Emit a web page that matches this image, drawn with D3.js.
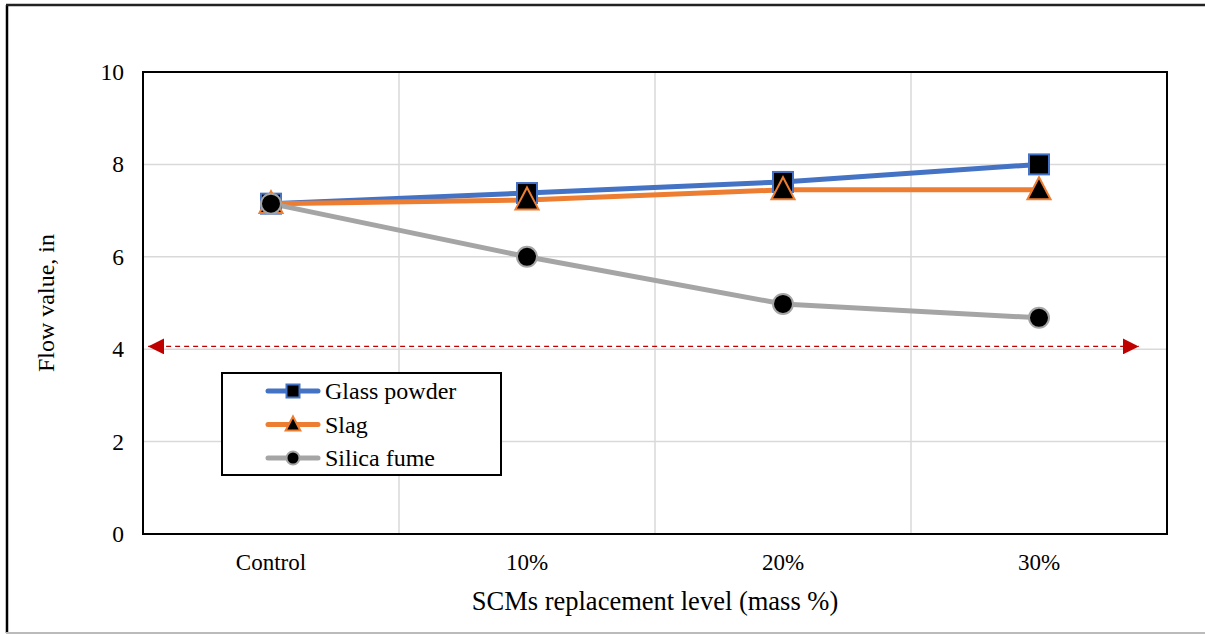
<!DOCTYPE html>
<html>
<head>
<meta charset="utf-8">
<script src="https://cdn.jsdelivr.net/npm/d3@7"></script>
<style>
  html, body { margin: 0; padding: 0; background: #fff; }
  svg { display: block; font-family: "Liberation Serif", "Times New Roman", serif; }
</style>
</head>
<body>
<svg id="chart" width="1205" height="634"></svg>
<script>
// Flow values (in) by SCM replacement level
const categories = ["Control", "10%", "20%", "30%"];
const glassPowder = [7.15, 7.38, 7.62, 8.0];
const slag = [7.15, 7.23, 7.45, 7.45];
const silicaFume = [7.15, 6.0, 4.98, 4.68];
const yTicks = [0, 2, 4, 6, 8, 10];
// Minimum flow reference (double-headed arrow), spanning fractional category positions
const limitValue = 4.06;
const limitSpan = [-0.48, 3.39];

const series = [
  { name: "Glass powder", values: glassPowder, color: "#4472C4", marker: "square" },
  { name: "Slag", values: slag, color: "#ED7D31", marker: "triangle" },
  { name: "Silica fume", values: silicaFume, color: "#A5A5A5", marker: "circle" }
];

const FONT = "Liberation Serif, Times New Roman, serif";
const svg = d3.select("#chart");
const margin = { left: 143, right: 1167, top: 72, bottom: 534 };

// Outer frame
svg.append("line").attr("x1", 7).attr("x2", 7).attr("y1", 5).attr("y2", 633)
  .attr("stroke", "#000").attr("stroke-width", 2.5);
svg.append("line").attr("x1", 6).attr("x2", 1205).attr("y1", 5).attr("y2", 5)
  .attr("stroke", "#222").attr("stroke-width", 2.5);
svg.append("line").attr("x1", 6).attr("x2", 1205).attr("y1", 633).attr("y2", 633)
  .attr("stroke", "#bbb").attr("stroke-width", 2);

const x = d3.scaleBand().domain(categories).range([margin.left, margin.right]);
const xPos = i => x(categories[i]) + x.bandwidth() / 2;
const xFrac = d3.scaleLinear().domain([-0.5, categories.length - 0.5]).range([margin.left, margin.right]);
const y = d3.scaleLinear().domain([0, 10]).range([margin.bottom, margin.top]);

// Gridlines
const grid = svg.append("g");
grid.selectAll("line.h").data(yTicks.filter(t => t > 0 && t < 10)).join("line")
  .attr("x1", margin.left).attr("x2", margin.right)
  .attr("y1", d => y(d)).attr("y2", d => y(d))
  .attr("stroke", "#d9d9d9").attr("stroke-width", 1.5);
grid.selectAll("line.v").data(categories.slice(1)).join("line")
  .attr("x1", d => x(d)).attr("x2", d => x(d))
  .attr("y1", margin.top).attr("y2", margin.bottom)
  .attr("stroke", "#d9d9d9").attr("stroke-width", 1.5);

// Y axis
const yAxis = d3.axisLeft(y).tickValues(yTicks).tickSize(0).tickPadding(19);
const gy = svg.append("g").attr("transform", `translate(${margin.left},0)`).call(yAxis)
  .attr("font-size", 23.5).attr("font-family", FONT);
gy.select(".domain").remove();
gy.selectAll("text").attr("fill", "#000");

// X axis
const xAxis = d3.axisBottom(x).tickSize(0).tickPadding(20);
const gx = svg.append("g").attr("transform", `translate(0,${margin.bottom})`).call(xAxis)
  .attr("font-size", 23).attr("font-family", FONT);
gx.select(".domain").remove();
gx.selectAll("text").attr("fill", "#000");

// Plot border
svg.append("rect").attr("x", margin.left).attr("y", margin.top)
  .attr("width", margin.right - margin.left).attr("height", margin.bottom - margin.top)
  .attr("fill", "none").attr("stroke", "#000").attr("stroke-width", 2);

// Axis titles
svg.append("text").attr("x", 655).attr("y", 610).attr("text-anchor", "middle")
  .attr("font-size", 26.5).attr("font-family", FONT).text("SCMs replacement level (mass %)");
svg.append("text").attr("transform", "translate(54,303) rotate(-90)")
  .attr("text-anchor", "middle").attr("font-size", 24).attr("font-family", FONT).text("Flow value, in");

// Reference arrow
const defs = svg.append("defs");
defs.append("marker").attr("id", "arrowEnd").attr("viewBox", "0 0 10 10")
  .attr("refX", 10).attr("refY", 5).attr("markerWidth", 16).attr("markerHeight", 16)
  .attr("markerUnits", "userSpaceOnUse").attr("orient", "auto")
  .append("path").attr("d", "M0,0 L10,5 L0,10 Z").attr("fill", "#C00000");
defs.append("marker").attr("id", "arrowStart").attr("viewBox", "0 0 10 10")
  .attr("refX", 0).attr("refY", 5).attr("markerWidth", 16).attr("markerHeight", 16)
  .attr("markerUnits", "userSpaceOnUse").attr("orient", "auto")
  .append("path").attr("d", "M10,0 L0,5 L10,10 Z").attr("fill", "#C00000");
svg.append("line")
  .attr("x1", xFrac(limitSpan[0])).attr("x2", xFrac(limitSpan[1]))
  .attr("y1", y(limitValue)).attr("y2", y(limitValue))
  .attr("stroke", "#C00000").attr("stroke-width", 1.2).attr("stroke-dasharray", "5,4")
  .attr("marker-start", "url(#arrowStart)").attr("marker-end", "url(#arrowEnd)");

// Marker drawing
function drawMarker(sel, type, color, size) {
  if (type === "square") {
    sel.append("rect").attr("x", -size / 2).attr("y", -size / 2)
      .attr("width", size).attr("height", size)
      .attr("fill", "#000").attr("stroke", color).attr("stroke-width", 2);
  } else if (type === "triangle") {
    const h = size * 0.95, w = size * 1.05;
    sel.append("path").attr("d", `M0,${-h * 0.6} L${w / 2},${h * 0.45} L${-w / 2},${h * 0.45} Z`)
      .attr("fill", "#000").attr("stroke", color).attr("stroke-width", 2).attr("stroke-linejoin", "miter");
  } else {
    sel.append("circle").attr("r", size / 2)
      .attr("fill", "#000").attr("stroke", color).attr("stroke-width", 2);
  }
}

const line = d3.line().x((d, i) => xPos(i)).y(d => y(d));
series.forEach(s => {
  svg.append("path").datum(s.values).attr("d", line)
    .attr("fill", "none").attr("stroke", s.color).attr("stroke-width", 5)
    .attr("stroke-linecap", "round").attr("stroke-linejoin", "round");
});
series.forEach(s => {
  s.values.forEach((v, i) => {
    const g = svg.append("g").attr("transform", `translate(${xPos(i)},${y(v)})`);
    drawMarker(g, s.marker, s.color, s.marker === "triangle" ? 22 : 20);
  });
});

// Legend
const legend = svg.append("g");
legend.append("rect").attr("x", 222).attr("y", 373).attr("width", 279).attr("height", 102)
  .attr("fill", "#fff").attr("stroke", "#000").attr("stroke-width", 2);
series.forEach((s, i) => {
  const ly = 391 + i * 33.5;
  legend.append("line").attr("x1", 268).attr("x2", 318).attr("y1", ly).attr("y2", ly)
    .attr("stroke", s.color).attr("stroke-width", 5).attr("stroke-linecap", "round");
  const g = legend.append("g").attr("transform", `translate(293,${ly})`);
  drawMarker(g, s.marker, s.color, s.marker === "triangle" ? 14 : 13);
  legend.append("text").attr("x", 325).attr("y", ly + 8).attr("font-size", 24)
    .attr("font-family", FONT).text(s.name);
});
</script>
</body>
</html>
